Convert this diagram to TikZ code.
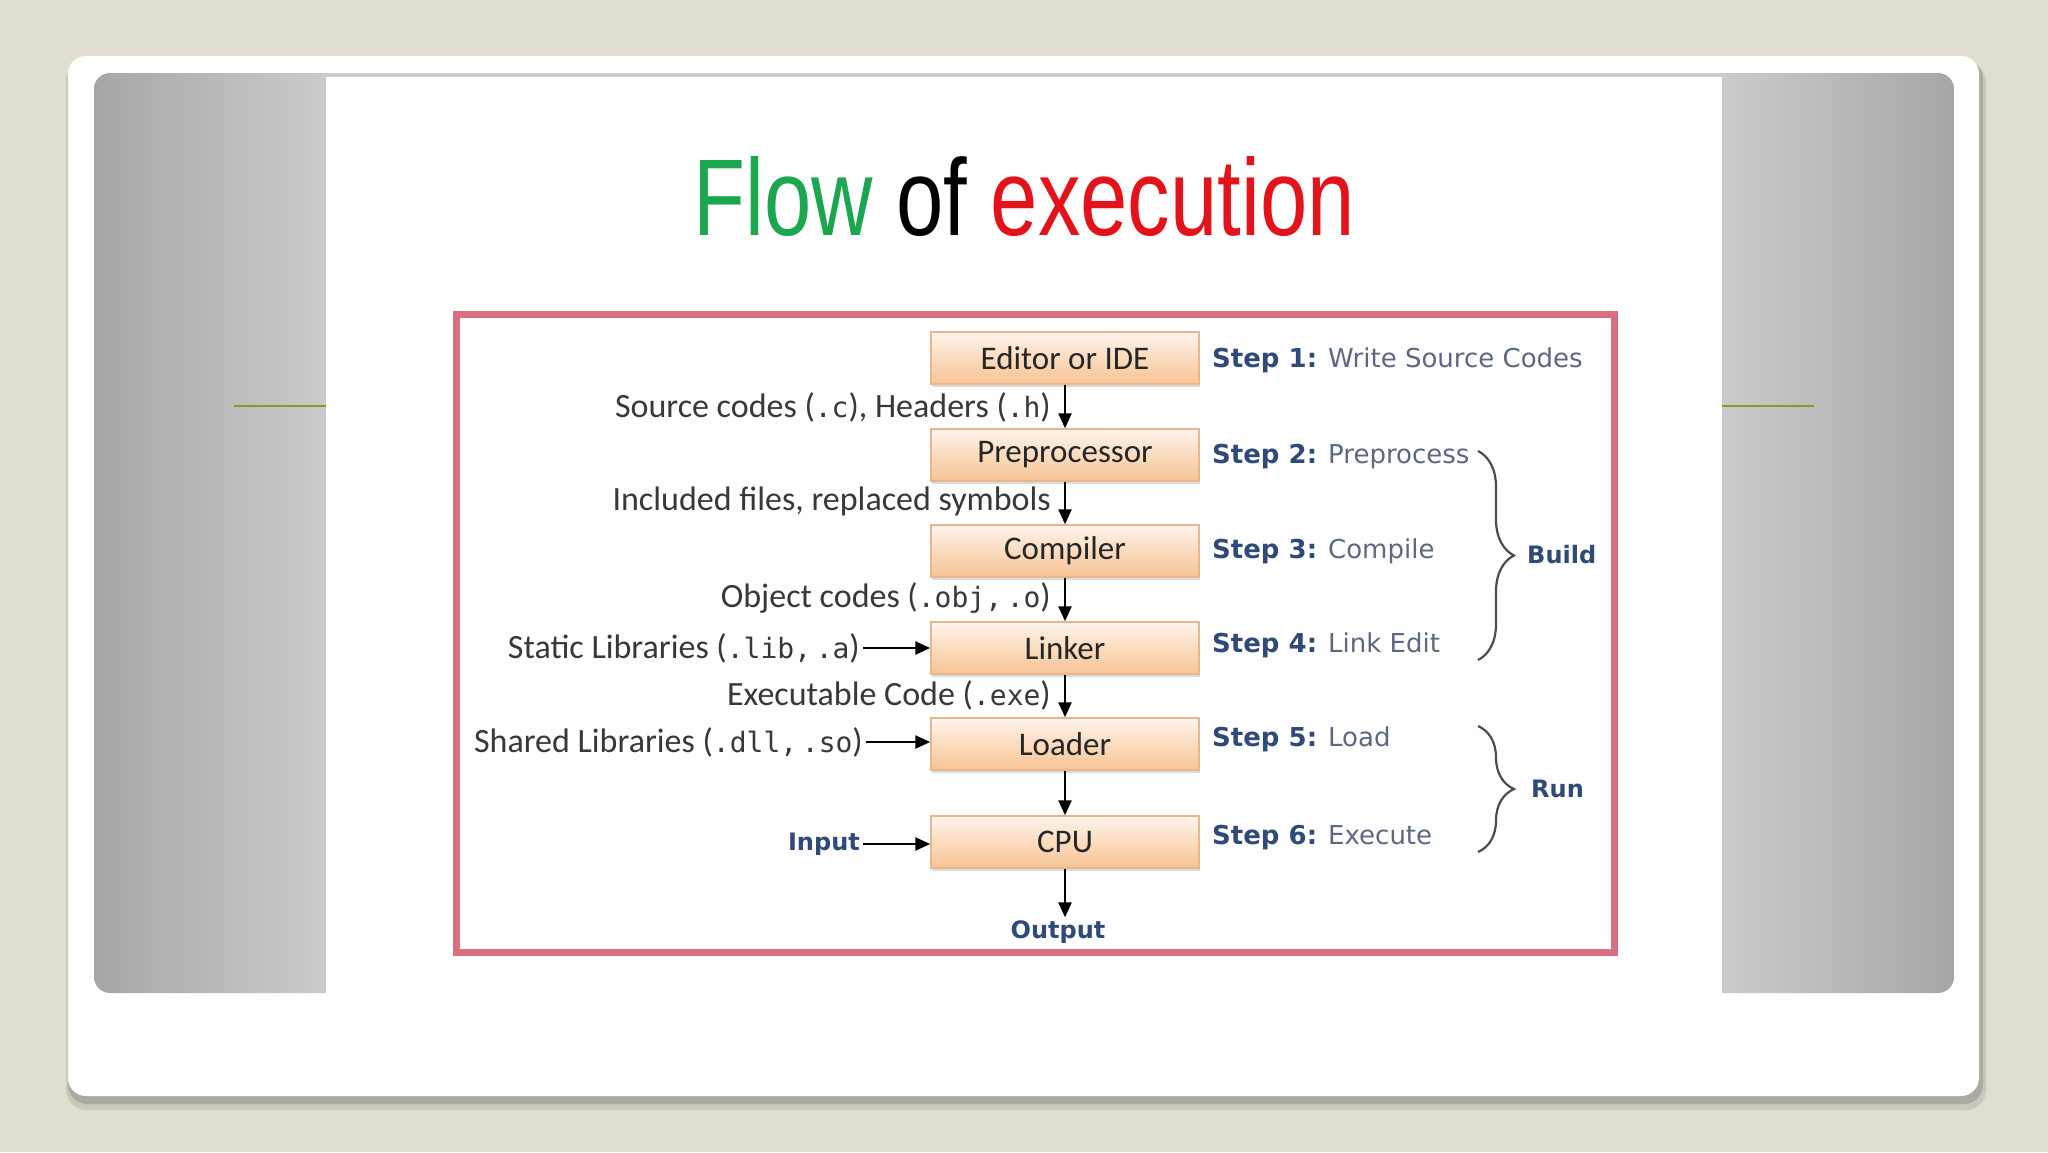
\documentclass[tikz,border=0pt]{standalone}
\usepackage{fontspec}
\setmainfont{Carlito}
\newfontfamily\titlefont[FakeStretch=0.78]{Liberation Sans}
\newfontfamily\stepfont{DejaVu Sans}
\newfontfamily\codefont{DejaVu Sans Mono}
\usetikzlibrary{arrows.meta,decorations.pathreplacing,shadows}
\definecolor{bgcol}{HTML}{E1DED1}
\definecolor{grayout}{HTML}{A6A6A6}
\definecolor{grayin}{HTML}{CBCBCB}
\definecolor{olivel}{HTML}{8C9A1C}
\definecolor{flowgreen}{HTML}{1DA650}
\definecolor{exred}{HTML}{E3131B}
\definecolor{framered}{HTML}{D8707F}
\definecolor{boxtop}{HTML}{FEF4EB}
\definecolor{boxbot}{HTML}{F7C393}
\definecolor{boxline}{HTML}{E6B68E}
\definecolor{navy}{HTML}{2F4A78}
\definecolor{steptxt}{HTML}{5A6880}
\definecolor{labtxt}{HTML}{383838}
\newcommand\cd[1]{{\codefont\fontsize{28}{30}\selectfont #1}}
\tikzset{
  stagebox/.style={draw=boxline, line width=1.5pt, top color=boxtop, bottom color=boxbot,
    minimum width=268pt, minimum height=52pt, inner sep=0pt,
    font=\fontsize{33}{36}\selectfont, text=black!85,
    drop shadow={shadow xshift=1pt, shadow yshift=-3pt, fill=black!40, opacity=.35}},
  flowlabel/.style={font=\fontsize{34}{38}\selectfont, text=labtxt, inner sep=3pt},
  steplabel/.style={anchor=west, font=\stepfont\fontsize{26}{30}\selectfont, text=steptxt, inner sep=0pt},
  ioname/.style={font=\stepfont\bfseries\fontsize{24}{28}\selectfont, text=navy, inner sep=3pt},
  arr/.style={line width=2.5pt, -{Triangle[length=15pt,width=13pt]}},
  bracestyle/.style={draw=black!70, line width=2.2pt, decorate,
    decoration={brace, amplitude=36pt, aspect=0.5}}
}
\newcommand\stp[2]{{\color{navy}\bfseries Step #1:} #2}
\begin{document}
\begin{tikzpicture}[x=1pt,y=-1pt]
\useasboundingbox (0,0) rectangle (2048,1152);
\fill[bgcol] (0,0) rectangle (2048,1152);
% card shadow
\fill[black, opacity=.10, rounded corners=20] (66,62) rectangle (1986,1110);
\fill[black, opacity=.14, rounded corners=19] (68,60) rectangle (1983,1104);
\fill[white, rounded corners=18] (68,56) rectangle (1979,1096);
% gray panel
\begin{scope}
\clip[rounded corners=16] (94,73) rectangle (1954,993);
\shade[left color=grayout, right color=grayin] (94,73) rectangle (326,993);
\shade[left color=grayin, right color=grayout] (1722,73) rectangle (1954,993);
\fill[grayin] (326,73) rectangle (1722,77);
\fill[white] (326,77) rectangle (1722,993);
\end{scope}
% green rules
\draw[olivel, line width=2.5pt] (234,406) -- (326,406);
\draw[olivel, line width=2.5pt] (1722,406) -- (1814,406);
% title
\node[anchor=base, inner sep=0pt, font=\titlefont\fontsize{109}{120}\selectfont] (title) at (1024,235)
  {{\color{flowgreen}Flow} of {\color{exred}execution}};
% frame
\draw[framered, line width=7pt] (456,314) rectangle (1614,952);
% stage boxes
\node[stagebox] (ed)  at (1065,358) {Editor or IDE};
\node[stagebox] (pre) at (1065,455) {Preprocessor};
\node[stagebox] (com) at (1065,551) {Compiler};
\node[stagebox] (lnk) at (1065,648) {Linker};
\node[stagebox] (ldr) at (1065,744) {Loader};
\node[stagebox] (cpu) at (1065,842) {CPU};
% vertical arrows
\draw[arr] (ed.south) -- (pre.north);
\draw[arr] (pre.south) -- (com.north);
\draw[arr] (com.south) -- (lnk.north);
\draw[arr] (lnk.south) -- (ldr.north);
\draw[arr] (ldr.south) -- (cpu.north);
% flow labels
\node[flowlabel, anchor=east] (src) at (1054,407) {Source codes (\cd{.c}), Headers (\cd{.h})};
\node[flowlabel, anchor=east] (inc) at (1054,501) {Included files, replaced symbols};
\node[flowlabel, anchor=east] (obj) at (1054,598) {Object codes (\cd{.obj,\,.o})};
\node[flowlabel, anchor=east] (exe) at (1054,695) {Executable Code (\cd{.exe})};
\node[flowlabel, anchor=east] (stl) at (863,648) {Static Libraries (\cd{.lib,\,.a})};
\node[flowlabel, anchor=east] (shl) at (866,742) {Shared Libraries (\cd{.dll,\,.so})};
\node[ioname, anchor=east] (inp) at (863,844) {Input};
\node[ioname] (out) at (1058,932) {Output};
% horizontal arrows
\draw[arr] (stl.east) -- (stl.east -| lnk.west);
\draw[arr] (shl.east) -- (shl.east -| ldr.west);
\draw[arr] (inp.east) -- (inp.east -| cpu.west);
\draw[arr] (cpu.south) -- (cpu.south |- out.north);
% steps
\node[steplabel] (s1) at (1212,360) {\stp{1}{Write Source Codes}};
\node[steplabel] (s2) at (1212,457) {\stp{2}{Preprocess}};
\node[steplabel] (s3) at (1212,551) {\stp{3}{Compile}};
\node[steplabel] (s4) at (1212,645) {\stp{4}{Link Edit}};
\node[steplabel] (s5) at (1212,739) {\stp{5}{Load}};
\node[steplabel] (s6) at (1212,838) {\stp{6}{Execute}};
% braces
\coordinate (b1) at (1478,451);
\coordinate (b2) at (1478,660);
\coordinate (r1) at (1478,726);
\coordinate (r2) at (1478,852);
\draw[bracestyle] (b1) -- (b2);
\draw[bracestyle] (r1) -- (r2);
\node[ioname, anchor=west] (build) at (1524,555) {Build};
\node[ioname, anchor=west] (run) at (1528,789) {Run};
\end{tikzpicture}
\end{document}
